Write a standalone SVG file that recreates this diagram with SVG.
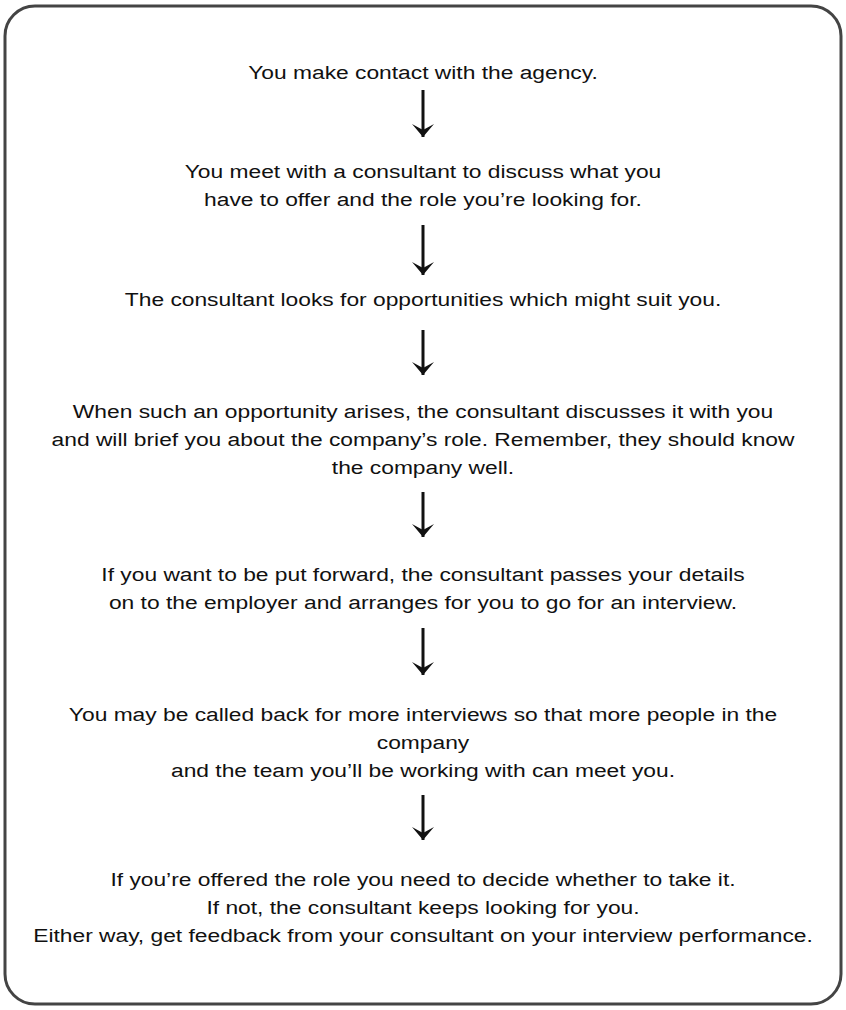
<svg xmlns="http://www.w3.org/2000/svg" width="846" height="1010" viewBox="0 0 846 1010">
<style>
text{font-family:"Liberation Sans",Arial,sans-serif;font-size:19px;fill:#111;text-anchor:middle}
.frame{fill:#fff;stroke:#444;stroke-width:3}
.conn line{stroke:#111;stroke-width:3}
</style>
<defs>
<marker id="ah" viewBox="0 0 16 24" refX="15" refY="12" markerWidth="16" markerHeight="24" markerUnits="userSpaceOnUse" orient="auto">
<path d="M2 1 L15 12 L2 23 L8 12 Z" fill="#111"/>
</marker>
</defs>
<rect class="frame" x="5" y="6" width="836" height="998" rx="30" ry="30"/>
<g id="texts" transform="translate(423 0) scale(1.2 1) translate(-423 0)">
<g id="n1"><text x="423" y="79">You make contact with the agency.</text></g>
<g id="n2"><text x="423" y="178">You meet with a consultant to discuss what you</text><text x="423" y="206">have to offer and the role you’re looking for.</text></g>
<g id="n3"><text x="423" y="306">The consultant looks for opportunities which might suit you.</text></g>
<g id="n4"><text x="423" y="418">When such an opportunity arises, the consultant discusses it with you</text><text x="423" y="446">and will brief you about the company’s role. Remember, they should know</text><text x="423" y="474">the company well.</text></g>
<g id="n5"><text x="423" y="581">If you want to be put forward, the consultant passes your details</text><text x="423" y="609">on to the employer and arranges for you to go for an interview.</text></g>
<g id="n6"><text x="423" y="721">You may be called back for more interviews so that more people in the</text><text x="423" y="749">company</text><text x="423" y="777">and the team you’ll be working with can meet you.</text></g>
<g id="n7"><text x="423" y="886">If you’re offered the role you need to decide whether to take it.</text><text x="423" y="914">If not, the consultant keeps looking for you.</text><text x="423" y="942">Either way, get feedback from your consultant on your interview performance.</text></g>
</g>
<g id="connectors" class="conn">
<line x1="423" y1="90" x2="423" y2="137" marker-end="url(#ah)"/>
<line x1="423" y1="225" x2="423" y2="275" marker-end="url(#ah)"/>
<line x1="423" y1="330" x2="423" y2="375" marker-end="url(#ah)"/>
<line x1="423" y1="492" x2="423" y2="537" marker-end="url(#ah)"/>
<line x1="423" y1="628" x2="423" y2="675" marker-end="url(#ah)"/>
<line x1="423" y1="795" x2="423" y2="840" marker-end="url(#ah)"/>
</g>
</svg>
